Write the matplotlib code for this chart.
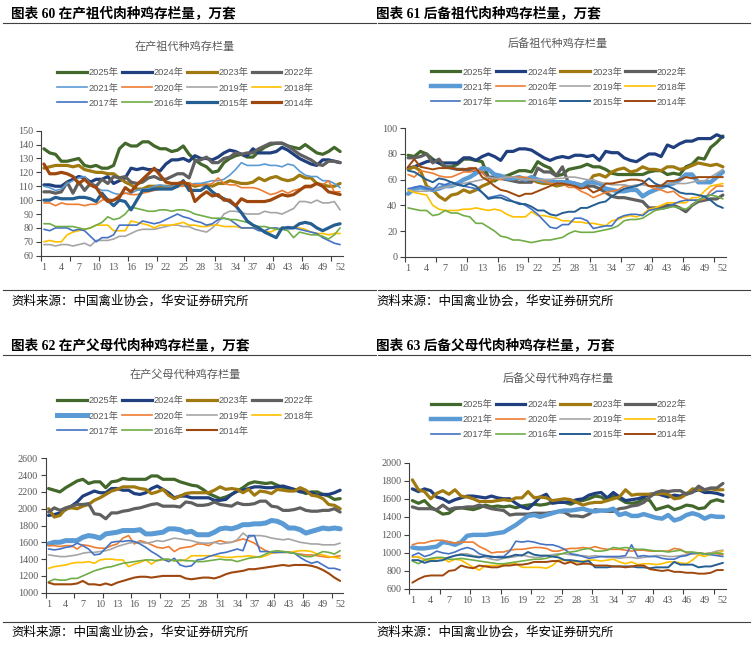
import matplotlib.pyplot as plt
from matplotlib.lines import Line2D

plt.rcParams['font.family'] = ['Liberation Serif', 'Noto Sans CJK SC']

weeks = list(range(1, 53))
years = ['2025年', '2024年', '2023年', '2022年', '2021年', '2020年',
         '2019年', '2018年', '2017年', '2016年', '2015年', '2014年']
colors = ['#43682B', '#203F7F', '#A07A10', '#606060', '#5B9BD5', '#ED7D31',
          '#A5A5A5', '#FFC000', '#4472C4', '#70AD47', '#255E91', '#9E480E']

# 图表60 在产祖代
a60_2025 = [137,134,133,128,128,129,130,125,124,125,123,123,125, 137,141,139,139,142,142,139,137,137,135,136,139,133,
            129,126,124,120,121,127,130,132,133,131,131,135,138, 140,141,141,139,138,137,140,137,134,133,135,138,135]
a60_2024 = [111,111,110,110,113,115,117,116,113,115,115,117,112, 114,116,123,122,123,122,122,121,126,129,129,130,128,
            132,130,130,129,131,134,136,135,133,132,137,134,134, 134,135,138,136,133,130,128,126,125,129,129,128,127]
a60_2023 = [123,124,125,125,125,124,125,122,121,120,120,119,119, 116,113,111,108,108,110,110,110,110,110,110,112,112,
            110,111,111,110,112,112,114,113,112,112,113,116,114, 116,117,115,114,115,118,116,116,112,111,110,110,112]
a60_2022 = [106,106,105,106,113,105,113,107,112,110,115,112,117, 116,117,113,112,113,116,117,115,115,117,119,119,116,
            128,129,131,127,127,130,131,134,133,134,134,137,139, 141,141,141,139,136,133,131,129,126,125,128,128,127]
a60_2021 = [110,109,107,108,112,114,116,117,112,109,107,107,105, 104,105,105,107,108,108,110,111,110,110,111,110,111,
            112,112,113,114,114,115,118,122,127,125,125,125,126, 125,125,124,126,125,121,118,117,117,114,114,112,109]
a60_2020 = [98,98,96,98,97,97,97,96,97,97,100,101,100, 104,105,104,104,105,106,107,108,108,109,110,110,112,
            111,111,111,112,116,112,111,111,109,109,109,108,106, 104,105,107,105,107,108,109,109,112,111,114,106,106]
a60_2019 = [68,68,67,68,68,67,68,69,67,71,71,71,72, 74,74,76,78,79,79,79,80,81,82,82,81,81,
            79,78,77,80,84,90,92,92,91,90,90,90,92, 91,91,90,92,94,99,99,98,100,98,98,99,93]
a60_2018 = [70,71,70,70,75,77,78,79,80,82,82,82,78, 78,78,85,84,83,82,80,82,82,82,83,84,82,
            82,81,81,82,82,81,81,81,80,80,80,79,78, 77,79,80,80,80,80,79,77,76,76,75,76,76]
a60_2017 = [79,78,80,80,80,78,79,78,74,70,73,73,75, 82,82,82,82,85,84,83,84,86,88,90,88,87,
            85,84,82,83,86,87,86,83,80,80,80,78,78, 80,80,79,81,80,79,78,77,76,73,71,69,68]
a60_2016 = [83,83,81,81,81,81,80,79,80,82,84,88,86, 87,90,95,94,93,92,92,93,93,92,93,93,92,
            90,89,88,87,87,87,86,86,85,84,82,81,81, 80,79,79,78,73,77,76,75,75,74,72,75,80]
a60_2015 = [100,100,102,101,101,101,102,102,101,99,105,100,96, 100,99,93,100,107,107,108,108,108,108,110,114,107,
            107,107,110,106,103,101,99,96,91,85,82,80,77, 75,73,80,80,80,83,84,83,80,78,80,82,83]
a60_2014 = [126,119,119,120,119,117,112,115,111,109,103,99,100, 102,109,106,111,115,119,123,118,113,112,112,113,111,
            99,103,106,103,104,100,100,96,101,99,99,99,99, 100,102,104,103,104,107,110,110,112,110,106,105,104]

# 图表61 后备祖代
a61_2025 = [79,78,82,80,76,73,70,70,72,76,76,75,74, 62,59,62,63,65,67,67,66,74,71,69,63,64,
            68,69,70,72,70,70,68,65,64,64,64,64,64, 66,67,67,64,65,64,70,72,77,76,85,89,94]
a61_2024 = [69,70,72,74,75,73,73,73,73,77,77,75,78, 80,78,75,82,82,84,84,83,80,77,75,77,78,
            77,79,79,78,79,75,82,81,81,77,75,74,77, 80,80,78,87,85,88,90,90,92,92,92,95,93]
a61_2023 = [68,70,67,55,52,47,44,48,49,52,50,52,55, 57,60,62,62,61,61,60,60,58,57,57,55,56,
            57,57,56,56,63,64,62,66,68,69,66,67,70, 68,68,67,70,70,68,69,71,73,72,71,72,70]
a61_2022 = [77,77,78,80,73,76,70,69,68,68,67,67,66, 62,62,61,60,59,58,58,58,69,66,66,63,70,
            57,57,56,55,55,53,50,47,46,46,45,44,43, 38,38,38,40,40,38,35,40,43,44,45,45,48]
a61_2021 = [49,53,54,53,52,53,55,55,57,60,62,65,69, 68,64,63,61,61,62,60,62,60,59,59,58,58,
            58,57,55,58,58,57,53,52,51,51,52,52,47, 50,52,54,56,57,60,64,64,58,58,58,62,66]
a61_2020 = [64,62,67,66,65,63,62,62,64,66,66,68,66, 60,61,60,62,62,62,62,60,60,59,57,57,57,
            54,54,51,49,46,48,50,51,52,55,55,55,57, 55,53,52,50,51,47,45,44,44,45,51,55,55]
a61_2019 = [52,51,51,51,52,53,54,55,56,57,58,59,60, 62,61,61,62,62,61,60,60,60,60,60,61,61,
            62,62,61,60,60,58,57,56,56,56,55,56,56, 55,55,56,57,57,57,57,58,59,59,62,65,68]
a61_2018 = [52,50,49,48,40,37,36,36,36,37,37,38,37, 36,37,36,33,31,31,31,35,32,32,31,30,28,
            28,27,27,26,26,25,24,28,29,31,32,31,33, 37,38,40,42,42,42,42,46,46,51,55,56,57]
a61_2017 = [53,54,55,53,52,57,56,58,57,55,54,53,50, 46,47,48,46,43,42,40,37,33,28,23,22,25,
            25,30,30,28,22,23,24,24,30,32,33,33,32, 36,37,37,38,41,43,44,44,44,47,48,51,51]
a61_2016 = [38,37,36,36,32,33,36,34,34,32,31,26,26, 23,20,16,15,13,13,12,11,12,13,13,14,15,
            18,20,19,19,19,20,21,22,24,28,29,29,30, 33,36,37,38,39,38,37,40,44,46,48,47,45]
a61_2015 = [67,66,63,60,58,61,60,58,56,55,57,55,50, 45,46,46,44,43,41,41,39,36,36,33,32,34,
            35,35,38,38,40,42,43,47,50,53,54,55,57, 61,57,55,55,53,50,49,49,48,47,44,40,38]
a61_2014 = [70,76,70,69,68,69,69,69,68,68,69,69,62, 59,55,52,51,49,47,49,49,51,53,55,57,57,
            56,55,53,54,50,52,57,57,58,59,60,60,59, 55,55,55,59,59,60,62,61,62,62,62,62,62]

# 图表62 在产父母代 (无2015年)
a62_2025 = [2240,2220,2200,2250,2290,2330,2350,2300,2320,2320,2250,2320,2330, 2360,2350,2350,2350,2350,2390,2390,2350,2350,2350,2320,2300,2280,
            2270,2230,2180,2150,2120,2140,2170,2210,2250,2300,2320,2310,2300, 2310,2280,2250,2240,2220,2210,2180,2200,2200,2170,2150,2110,2120]
a62_2024 = [1920,1930,1950,1990,2030,2080,2150,2180,2210,2190,2190,2240,2240, 2220,2220,2180,2170,2190,2240,2270,2230,2190,2130,2150,2150,2130,
            2130,2130,2130,2100,2100,2110,2170,2210,2220,2240,2260,2260,2250, 2250,2260,2270,2250,2230,2200,2200,2190,2160,2170,2170,2190,2220]
a62_2023 = [2000,1900,1920,2000,2010,2000,2030,2050,2100,2130,2170,2210,2230, 2260,2260,2260,2240,2230,2180,2200,2230,2160,2120,2150,2180,2190,
            2190,2190,2190,2220,2260,2230,2240,2230,2190,2230,2160,2210,2200, 2180,2230,2220,2210,2210,2250,2220,2160,2150,2120,2050,2040,2000]
a62_2022 = [1960,2010,1980,2010,2030,2050,2050,2060,1940,1930,1880,1950,1950, 1970,1980,2000,2010,2030,2050,2060,2030,2030,2030,2020,2080,2070,
            2040,2040,2050,2080,2050,2040,2030,2070,2050,2050,2060,2090,2090, 2030,2020,1980,1980,1990,2010,1980,1970,1970,1980,1980,2000,1960]
a62_2021 = [1580,1600,1600,1620,1620,1620,1660,1680,1670,1650,1700,1710,1720, 1740,1740,1740,1750,1700,1700,1710,1720,1760,1760,1750,1720,1730,
            1690,1690,1690,1720,1760,1770,1760,1780,1810,1810,1820,1820,1830, 1860,1850,1820,1770,1770,1750,1710,1730,1750,1770,1760,1770,1760]
a62_2020 = [1560,1560,1550,1560,1560,1520,1570,1560,1540,1530,1530,1560,1580, 1650,1680,1580,1620,1600,1570,1540,1530,1550,1490,1530,1540,1550,
            1580,1580,1560,1600,1620,1600,1600,1620,1640,1620,1590,1540,1500, 1480,1480,1490,1480,1470,1460,1450,1450,1440,1430,1420,1430,1440]
a62_2019 = [1450,1440,1430,1430,1440,1450,1470,1480,1480,1490,1500,1520,1550, 1570,1590,1600,1600,1590,1600,1620,1610,1630,1650,1640,1630,1620,
            1600,1590,1590,1600,1580,1590,1600,1630,1710,1660,1680,1680,1670, 1650,1640,1630,1640,1620,1600,1590,1580,1580,1570,1570,1570,1590]
a62_2018 = [1290,1310,1320,1330,1350,1360,1360,1370,1350,1390,1400,1400,1390, 1390,1310,1340,1360,1390,1340,1390,1390,1390,1380,1380,1390,1440,
            1440,1440,1440,1440,1430,1420,1420,1430,1430,1440,1430,1420,1440, 1470,1480,1480,1480,1490,1500,1500,1490,1460,1450,1430,1420,1410]
a62_2017 = [1520,1510,1520,1540,1550,1590,1560,1520,1450,1460,1530,1600,1610, 1610,1620,1610,1580,1540,1490,1450,1400,1370,1410,1330,1310,1320,
            1390,1400,1430,1450,1470,1480,1500,1520,1500,1680,1680,1490,1490, 1480,1480,1480,1480,1470,1420,1380,1350,1370,1330,1290,1290,1270]
a62_2016 = [1130,1160,1150,1150,1170,1170,1200,1230,1260,1280,1300,1310,1330, 1350,1360,1370,1380,1390,1390,1380,1400,1400,1380,1390,1380,1380,
            1370,1370,1380,1390,1400,1390,1390,1370,1390,1410,1420,1430,1460, 1490,1500,1490,1480,1470,1450,1430,1430,1460,1490,1480,1460,1500]
a62_2014 = [1120,1100,1100,1100,1100,1110,1140,1100,1100,1090,1110,1090,1120, 1140,1160,1180,1190,1190,1180,1190,1200,1200,1200,1200,1170,1160,
            1170,1180,1180,1170,1190,1220,1240,1250,1260,1280,1280,1290,1300, 1310,1320,1330,1320,1330,1330,1330,1320,1300,1270,1230,1180,1140]

# 图表63 后备父母代
a63_2025 = [1580,1550,1580,1510,1470,1430,1440,1490,1500,1490,1480,1500,1530, 1510,1520,1510,1520,1500,1520,1530,1540,1530,1540,1560,1570,1560,
            1540,1570,1580,1600,1630,1620,1580,1640,1600,1560,1550,1560,1600, 1580,1480,1500,1520,1480,1500,1530,1520,1490,1500,1570,1590,1570]
a63_2024 = [1710,1680,1710,1690,1620,1600,1560,1590,1610,1630,1630,1620,1610, 1630,1610,1600,1600,1550,1510,1490,1550,1620,1650,1550,1560,1560,
            1570,1590,1600,1640,1660,1670,1610,1670,1620,1580,1590,1600,1620, 1650,1660,1640,1620,1640,1630,1660,1680,1700,1670,1670,1660,1640]
a63_2023 = [1810,1700,1680,1600,1660,1690,1650,1700,1630,1620,1600,1570,1570, 1570,1580,1590,1580,1610,1610,1680,1610,1620,1610,1580,1590,1600,
            1590,1560,1530,1550,1560,1560,1580,1600,1620,1700,1640,1650,1650, 1650,1650,1660,1650,1600,1610,1650,1710,1700,1700,1710,1700,1700]
a63_2022 = [1510,1490,1490,1490,1480,1530,1480,1500,1500,1510,1510,1530,1510, 1490,1480,1470,1420,1430,1430,1430,1440,1440,1440,1450,1460,1450,
            1410,1410,1400,1430,1480,1470,1460,1460,1490,1500,1520,1530,1560, 1620,1670,1690,1680,1690,1690,1650,1670,1740,1700,1720,1720,1770]
a63_2021 = [1060,1050,1050,1060,1070,1120,1110,1090,1120,1190,1200,1200,1200, 1210,1220,1230,1270,1310,1360,1410,1420,1400,1420,1440,1460,1470,
            1470,1480,1490,1470,1460,1470,1470,1490,1420,1440,1410,1410,1430, 1410,1390,1380,1420,1360,1380,1420,1440,1420,1380,1410,1400,1400]
a63_2020 = [1090,1110,1110,1130,1140,1140,1120,1110,1120,1120,1120,1070,1040, 1000,1010,1010,1030,1040,1040,1050,1060,1060,1050,1020,1020,1040,
            1050,1050,1060,1050,1070,1050,1040,1040,1040,1030,1020,1030,1030, 1020,1020,1020,1020,1050,1040,1000,990,1000,990,1000,990,980]
a63_2019 = [960,950,930,930,940,940,950,970,990,990,970,960,950, 930,920,940,950,960,980,960,950,950,970,980,990,990,
            980,970,970,960,970,960,950,950,940,950,950,940,950, 960,970,970,960,960,970,980,990,990,990,1000,1020,1030]
a63_2018 = [950,960,920,920,940,940,900,930,920,880,840,810,860, 860,860,870,880,880,840,840,840,840,830,860,920,920,
            900,900,910,920,920,910,920,930,900,880,900,870,880, 880,870,880,900,900,890,880,920,980,960,990,1000,1020]
a63_2017 = [970,1000,960,980,1020,1000,990,1010,1040,1060,1040,990,970, 950,960,960,1020,1130,1120,1130,1120,1100,1090,1090,1070,1040,
            990,980,960,940,950,960,960,960,960,970,1090,960,970, 960,960,940,930,930,960,970,1000,1000,990,980,970,960]
a63_2016 = [910,880,920,940,950,950,930,930,940,930,920,910,900, 890,880,880,890,900,910,920,930,930,940,960,980,1000,
            1010,1020,1040,1050,1020,1020,1030,1060,1050,1060,1050,1040,1040, 1030,1020,1020,1010,1020,1030,1010,1010,1000,990,990,1000,990]
a63_2015 = [920,920,890,910,910,920,950,970,980,970,960,950,970, 960,950,950,960,980,970,1010,980,970,970,960,950,920,
            920,910,900,910,840,840,840,850,850,850,850,840,840, 830,840,840,840,900,870,870,870,840,850,850,870,890]
a63_2014 = [670,710,740,750,750,750,800,810,860,840,830,860,850, 840,840,860,860,870,870,880,900,900,900,910,910,880,
            900,870,880,880,860,860,860,850,850,840,850,860,860, 820,810,800,810,790,790,780,780,770,770,780,810,810]

W, H = 756, 646
fig = plt.figure(figsize=(7.56, 6.46), dpi=100)


def fx(px):
    return px / W


def fy(py):
    return 1 - py / H


panels = [
    dict(header='图表 60 在产祖代肉种鸡存栏量，万套', title='在产祖代种鸡存栏量',
         col=0, top_off=0, rect=(41, 130.7, 343, 255.7), ylim=(60, 150), ystep=10,
         title_xy=(185, 46.7), leg_xy=(57, 68.5),
         series=[a60_2025, a60_2024, a60_2023, a60_2022, a60_2021, a60_2020,
                 a60_2019, a60_2018, a60_2017, a60_2016, a60_2015, a60_2014],
         idx=list(range(12)),
         lw=[2.3, 2.3, 2.3, 2.3, 1.2, 1.2, 1.2, 1.2, 1.2, 1.2, 2.3, 2.3]),
    dict(header='图表 61 后备祖代肉种鸡存栏量，万套', title='后备祖代种鸡存栏量',
         col=1, top_off=0, rect=(405, 128.3, 726, 256.7), ylim=(0, 100), ystep=20,
         title_xy=(558, 44), leg_xy=(430.7, 67.5),
         series=[a61_2025, a61_2024, a61_2023, a61_2022, a61_2021, a61_2020,
                 a61_2019, a61_2018, a61_2017, a61_2016, a61_2015, a61_2014],
         idx=list(range(12)),
         lw=[2.3, 2.3, 2.3, 2.3, 3.2, 1.2, 1.2, 1.2, 1.2, 1.2, 1.4, 1.4]),
    dict(header='图表 62 在产父母代肉种鸡存栏量，万套', title='在产父母代种鸡存栏量',
         col=0, top_off=332, rect=(45.7, 458.3, 343, 592.7), ylim=(1000, 2600), ystep=200,
         title_xy=(185, 374.3), leg_xy=(57, 396.5),
         series=[a62_2025, a62_2024, a62_2023, a62_2022, a62_2021, a62_2020,
                 a62_2019, a62_2018, a62_2017, a62_2016, a62_2014],
         idx=[0, 1, 2, 3, 4, 5, 6, 7, 8, 9, 11],
         lw=[2.3, 2.3, 2.3, 2.3, 3.6, 1.2, 1.2, 1.2, 1.2, 1.2, 1.5]),
    dict(header='图表 63 后备父母代肉种鸡存栏量，万套', title='后备父母代种鸡存栏量',
         col=1, top_off=332, rect=(409.3, 462.7, 726, 589), ylim=(600, 2000), ystep=200,
         title_xy=(558, 378.3), leg_xy=(430.7, 400),
         series=[a63_2025, a63_2024, a63_2023, a63_2022, a63_2021, a63_2020,
                 a63_2019, a63_2018, a63_2017, a63_2016, a63_2015, a63_2014],
         idx=list(range(12)),
         lw=[2.3, 2.3, 2.3, 2.3, 3.2, 1.2, 1.2, 1.2, 1.2, 1.2, 1.4, 1.4]),
]

for p in panels:
    x0 = 3 if p['col'] == 0 else 378
    x1 = 376 if p['col'] == 0 else 750
    tx = 11 if p['col'] == 0 else 376
    off = p['top_off']

    # header + rules
    fig.text(fx(tx), fy(13.3 + off), p['header'], fontsize=9.8, fontweight='bold',
             va='center', ha='left')
    fig.add_artist(Line2D([fx(x0), fx(x1)], [fy(23.3 + off), fy(23.3 + off)],
                          color='#404040', lw=0.8))
    src_y = 290 if off == 0 else 621.7
    fig.add_artist(Line2D([fx(x0), fx(x1)], [fy(src_y), fy(src_y)],
                          color='#404040', lw=0.8))
    fig.text(fx(tx + 0.7), fy(src_y + 10.8), '资料来源：中国禽业协会，华安证券研究所',
             fontsize=9, va='center', ha='left', family=['Noto Sans CJK SC'])

    # chart title
    fig.text(fx(p['title_xy'][0]), fy(p['title_xy'][1]), p['title'], fontsize=8,
             color='#595959', ha='center', va='center', family=['Noto Sans CJK SC'])

    l, t, r, b = p['rect']
    ax = fig.add_axes([fx(l), fy(b), (r - l) / W, (b - t) / H])
    handles = []
    for s, i, w in zip(p['series'], p['idx'], p['lw']):
        ln, = ax.plot(weeks, s, color=colors[i], lw=w, label=years[i],
                      solid_joinstyle='round', solid_capstyle='round')
        handles.append(ln)

    ax.set_xlim(0.5, 52.5)
    ax.set_ylim(*p['ylim'])
    ax.set_yticks(list(range(p['ylim'][0], p['ylim'][1] + 1, p['ystep'])))
    ax.set_xticks(list(range(1, 53, 3)))
    ax.set_xticks([0.5 + 5 * k for k in range(11)], minor=True)
    ax.tick_params(axis='x', which='major', length=0, pad=5, labelsize=7.3, labelcolor='#595959')
    ax.tick_params(axis='x', which='minor', length=3.5, width=0.8, color='#404040')
    ax.tick_params(axis='y', which='major', length=3.5, width=0.8, color='#404040',
                   pad=2, labelsize=7.3, labelcolor='#595959')
    for side in ('top', 'right'):
        ax.spines[side].set_visible(False)
    for side in ('left', 'bottom'):
        ax.spines[side].set_color('#404040')
        ax.spines[side].set_linewidth(0.8)
    ax.patch.set_alpha(0)

    # legend, row-major order in 4 columns
    n = len(handles)
    order = []
    cols = [[] for _ in range(4)]
    for k in range(n):
        cols[k % 4].append(k)
    for c in cols:
        order.extend(c)
    lh = [Line2D([], [], color=handles[k].get_color(), lw=handles[k].get_linewidth())
          for k in order]
    ll = [handles[k].get_label() for k in order]
    leg = ax.legend(lh, ll, ncol=4, loc='upper left', frameon=False,
                    bbox_to_anchor=(fx(p['leg_xy'][0]), fy(p['leg_xy'][1])),
                    bbox_transform=fig.transFigure, borderpad=0, borderaxespad=0,
                    handlelength=3.2, handletextpad=0.2, columnspacing=0.35,
                    labelspacing=0.65,
                    prop={'family': ['Liberation Sans', 'Noto Sans CJK SC'], 'size': 6.7})
    for txt in leg.get_texts():
        txt.set_color('#595959')

fig.savefig('out.png', dpi=100)
